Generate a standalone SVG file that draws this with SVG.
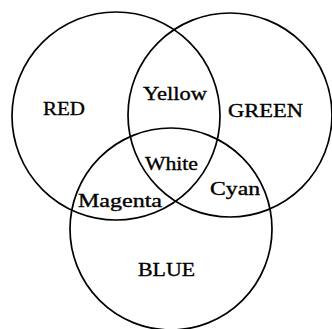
<svg xmlns="http://www.w3.org/2000/svg" width="332" height="329" viewBox="0 0 332 329">
<style>
.c{fill:none;stroke:#000;stroke-width:1.7}
.t{font-family:"Liberation Serif","Times New Roman",serif;font-size:19px;fill:#000;stroke:#000;stroke-width:0.35}
</style>
<rect width="332" height="329" fill="#fff"/>
<g id="red"><circle class="c" cx="116" cy="116" r="104"/><text class="t" x="43" y="115" textLength="42" lengthAdjust="spacingAndGlyphs">RED</text></g>
<g id="green"><circle class="c" cx="230" cy="115" r="102"/><text class="t" x="228" y="117" textLength="75" lengthAdjust="spacingAndGlyphs">GREEN</text></g>
<g id="blue"><circle class="c" cx="171" cy="229" r="101"/><text class="t" x="138" y="276" textLength="57" lengthAdjust="spacingAndGlyphs">BLUE</text></g>
<g id="yellow"><text class="t" x="143" y="100" textLength="64" lengthAdjust="spacingAndGlyphs">Yellow</text></g>
<g id="white"><text class="t" x="145" y="170" textLength="53" lengthAdjust="spacingAndGlyphs">White</text></g>
<g id="magenta"><text class="t" x="78" y="207" textLength="84" lengthAdjust="spacingAndGlyphs">Magenta</text></g>
<g id="cyan"><text class="t" x="210" y="195" textLength="50" lengthAdjust="spacingAndGlyphs">Cyan</text></g>
<g id="connectors"></g>
</svg>
